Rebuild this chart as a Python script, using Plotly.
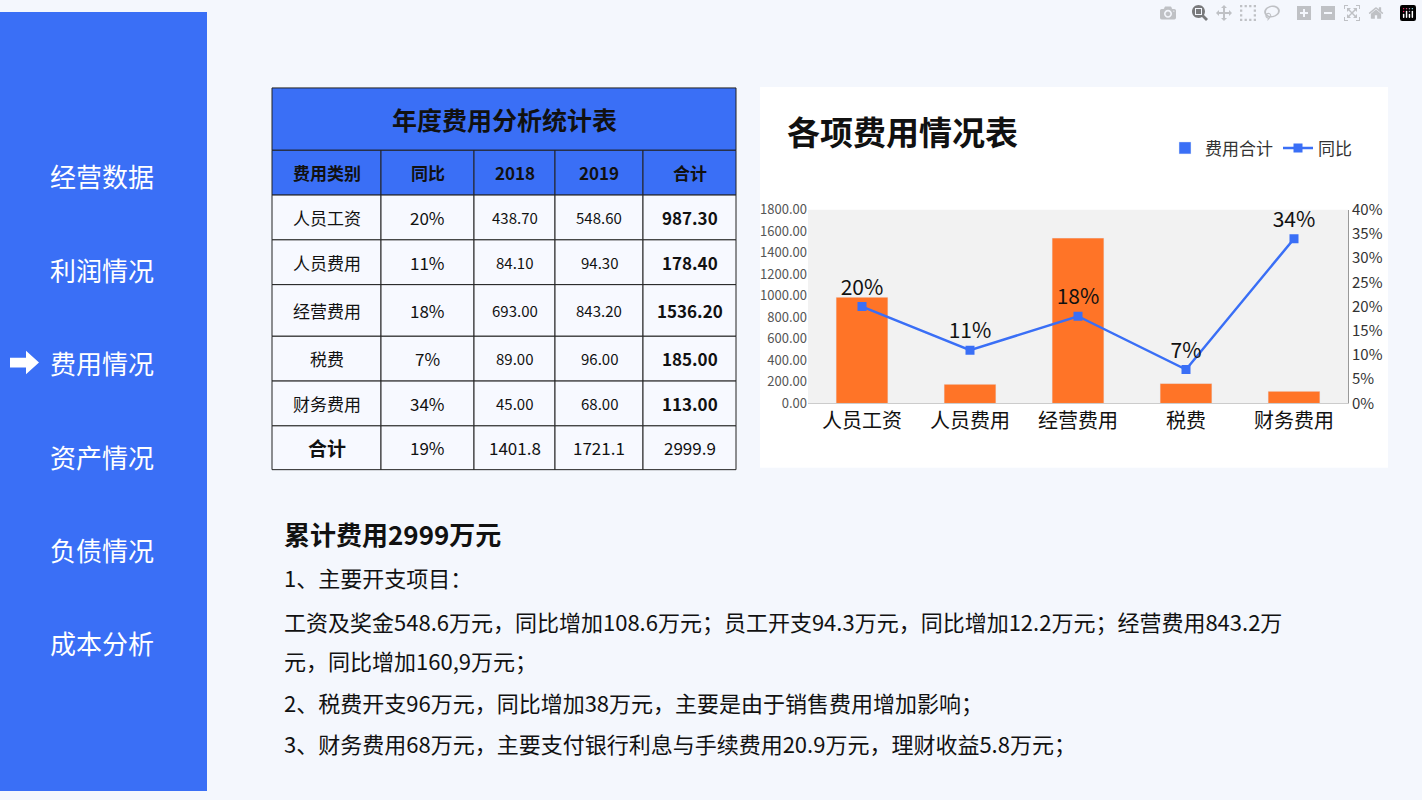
import plotly.graph_objects as go

W, H = 1422, 800

menu_items = ["经营数据", "利润情况", "费用情况", "资产情况", "负债情况", "成本分析"]
active_item = "费用情况"

categories = ["人员工资", "人员费用", "经营费用", "税费", "财务费用"]
yoy = [20, 11, 18, 7, 34]
v2018 = [438.70, 84.10, 693.00, 89.00, 45.00]
v2019 = [548.60, 94.30, 843.20, 96.00, 68.00]
totals = [987.30, 178.40, 1536.20, 185.00, 113.00]
sum_row = ["合计", "19%", "1401.8", "1721.1", "2999.9"]
headers = ["费用类别", "同比", "2018", "2019", "合计"]

notes_title = "累计费用2999万元"
notes = [
    "1、主要开支项目：",
    "工资及奖金548.6万元，同比增加108.6万元；员工开支94.3万元，同比增加12.2万元；经营费用843.2万",
    "元，同比增加160,9万元；",
    "2、税费开支96万元，同比增加38万元，主要是由于销售费用增加影响；",
    "3、财务费用68万元，主要支付银行利息与手续费用20.9万元，理财收益5.8万元；",
]

BLUE = "#3A6FF6"
ORANGE = "#FF7427"
FONT = "Noto Sans CJK SC"


def px_x(x):
    return x / W


def px_y(y):
    return 1 - y / H


shapes = []
ann = []


def rect(x0, y0, x1, y1, fill, line=None, lw=1):
    shapes.append(dict(type="rect", xref="paper", yref="paper",
                       x0=px_x(x0), x1=px_x(x1), y0=px_y(y1), y1=px_y(y0),
                       fillcolor=fill, line=dict(color=line or fill, width=lw if line else 0),
                       layer="below"))


def text(x, y, s, size, color="#111", bold=False, xanchor="center"):
    ann.append(dict(xref="paper", yref="paper", x=px_x(x), y=px_y(y), text=f"<b>{s}</b>" if bold else s,
                    showarrow=False, xanchor=xanchor, yanchor="middle",
                    font=dict(size=size, color=color, family=FONT)))


# background + sidebar
rect(0, 0, W, H, "#F4F7FD")
rect(0, 0, 207, H, BLUE)
for i, item in enumerate(menu_items):
    y = 168 + i * 96
    text(48, y, item, 26, "white", xanchor="left")
    if item == active_item:
        shapes.append(dict(type="path", xref="paper", yref="paper",
                           path=f"M {px_x(10)},{px_y(355)} L {px_x(26)},{px_y(355)} L {px_x(26)},{px_y(348)} "
                                f"L {px_x(39)},{px_y(360)} L {px_x(26)},{px_y(372)} L {px_x(26)},{px_y(365)} "
                                f"L {px_x(10)},{px_y(365)} Z",
                           fillcolor="white", line=dict(width=0)))

# table
cols = [272, 381, 474, 555, 643, 736]
rows = [188, 234, 280, 333, 379, 425, 470]
rect(272, 78, 736, 142, BLUE, "#222", 1)
text(504, 110, "年度费用分析统计表", 25, "#111", True)
for j in range(5):
    rect(cols[j], 142, cols[j + 1], 188, BLUE, "#222", 1)
    text((cols[j] + cols[j + 1]) / 2, 165, headers[j], 17, "#111", True)
for i in range(6):
    for j in range(5):
        rect(cols[j], rows[i], cols[j + 1], rows[i + 1], "#F7F9FF", "#222", 1)
    yc = (rows[i] + rows[i + 1]) / 2
    if i < 5:
        cells = [categories[i], f"{yoy[i]}%", f"{v2018[i]:.2f}", f"{v2019[i]:.2f}", f"{totals[i]:.2f}"]
        bolds = [False, False, False, False, True]
        sizes = [17, 17, 15, 15, 17]
    else:
        cells = sum_row
        bolds = [True, False, False, False, False]
        sizes = [19, 17, 17, 17, 17]
    for j in range(5):
        text((cols[j] + cols[j + 1]) / 2, yc, cells[j], sizes[j], "#111", bolds[j])

# chart card
rect(760, 77, 1388, 468, "white")
rect(808, 203, 1348, 402, "#F2F2F2")
text(785, 122, "各项费用情况表", 33, "#111", True, xanchor="left")

# notes
text(282, 536, notes_title, 26, "#111", True, xanchor="left")
for s, y in zip(notes, [580, 625, 665, 709, 751]):
    text(282, y, s, 22, "#111", xanchor="left")

fig = go.Figure()
fig.add_trace(go.Bar(x=categories, y=totals, name="费用合计", marker_color=ORANGE,
                     width=0.48, showlegend=False))
fig.add_trace(go.Bar(x=[None], y=[None], name="费用合计", marker_color=BLUE))
fig.add_trace(go.Scatter(x=categories, y=[v / 100 for v in yoy], name="同比", yaxis="y2",
                         mode="lines+markers+text", text=[f"{v}%" for v in yoy],
                         textposition="top center", textfont=dict(size=21, color="#111", family=FONT),
                         line=dict(color=BLUE, width=2.5), marker=dict(symbol="square", size=9, color=BLUE)))

fig.update_layout(
    width=W, height=H, margin=dict(l=0, r=0, t=0, b=0),
    paper_bgcolor="#F4F7FD", plot_bgcolor="rgba(0,0,0,0)",
    shapes=shapes, annotations=ann, barmode="overlay",
    font=dict(family=FONT, color="#333"),
    xaxis=dict(domain=[px_x(808), px_x(1348)], tickfont=dict(size=20, color="#111"),
               showline=True, linecolor="#ccc", ticks=""),
    yaxis=dict(domain=[px_y(402), px_y(203)], range=[0, 1800], dtick=200, tickformat=".2f",
               showgrid=False, tickfont=dict(size=13, color="#555"), zeroline=False),
    yaxis2=dict(overlaying="y", side="right", range=[0, 0.4], dtick=0.05, tickformat=".0%",
                showgrid=False, showline=True, linecolor="#999", tickfont=dict(size=15, color="#333")),
    legend=dict(orientation="h", x=px_x(1165), y=px_y(140), yanchor="middle", xanchor="left",
                font=dict(size=17, color="#333"), bgcolor="rgba(0,0,0,0)"),
)

fig.write_html("out.html")

with open("out.html", encoding="utf-8") as f:
    page = f.read()
page = page.replace("<head>", "<head><style>html,body{margin:0;padding:0;overflow:hidden}</style>", 1)
with open("out.html", "w", encoding="utf-8") as f:
    f.write(page)
